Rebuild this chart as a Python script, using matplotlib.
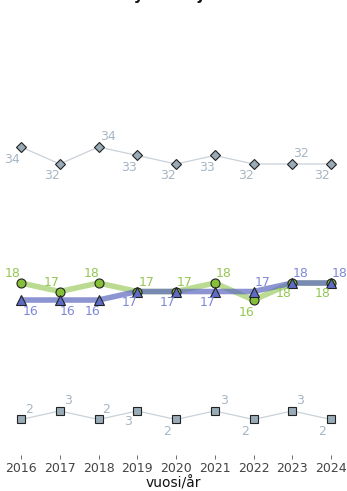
import matplotlib.pyplot as plt

years = [2016, 2017, 2018, 2019, 2020, 2021, 2022, 2023, 2024]
top_vals = [34, 32, 34, 33, 32, 33, 32, 32, 32]
green_vals = [18, 17, 18, 17, 17, 18, 16, 18, 18]
blue_vals = [16, 16, 16, 17, 17, 17, 17, 18, 18]
bottom_vals = [2, 3, 2, 3, 2, 3, 2, 3, 2]

# label offsets in pixels (dx, dy), picked to match the repel layout
top_off = [(-9, -13), (-8, -12), (9, 10), (-8, -12), (-8, -12), (-8, -12), (-8, -12), (9, 10), (-9, -12)]
green_off = [(-8, 10), (-8, 9), (-7, 10), (9, 9), (9, 9), (9, 10), (-7, -12), (-9, -10), (-8, -10)]
blue_off = [(10, -11), (8, -11), (-6, -11), (-8, -11), (-8, -11), (-7, -11), (9, 9), (8, 10), (9, 10)]
bottom_off = [(8, 10), (8, 10), (8, 10), (-9, -11), (-9, -12), (9, 10), (-8, -12), (8, 10), (-9, -12)]

W, H = 347, 491
fig = plt.figure(figsize=(W / 100, H / 100), dpi=100)

xlim = (2016 - 21 / 38.75, 2024 + 16 / 38.75)


def make_ax(top_px, bot_px, lo):
    ax = fig.add_axes([0, (H - bot_px) / H, 1, (bot_px - top_px) / H])
    ax.set_xlim(xlim)
    ax.set_ylim(lo, lo + (bot_px - top_px) / 8.5)
    ax.patch.set_visible(False)
    for s in ax.spines.values():
        s.set_visible(False)
    ax.set_yticks([])
    return ax


def labels(ax, vals, offs, color):
    for x, v, (dx, dy) in zip(years, vals, offs):
        ax.annotate(str(v), (x, v), xytext=(dx, dy), textcoords='offset pixels',
                    ha='center', va='center', fontsize=9, color=color)


ax1 = make_ax(100, 220, 25.41)
ax1.plot(years, top_vals, color='#c9d1d9', lw=0.9, zorder=1)
ax1.plot(years, top_vals, 'D', ms=5.5, mfc='#9aabb8', mec='#222222', mew=0.8, zorder=3)
labels(ax1, top_vals, top_off, '#a7b6c4')
ax1.set_xticks([])

ax2 = make_ax(230, 350, 10.12)
ax2.plot(years, green_vals, color='#9dcc62', lw=4, alpha=0.7, solid_capstyle='butt', zorder=1)
ax2.plot(years, blue_vals, color='#5c68c0', lw=4, alpha=0.7, solid_capstyle='butt', zorder=1)
ax2.plot(years, green_vals, 'o', ms=6.5, mfc='#86bf3a', mec='#222222', mew=0.8, zorder=3)
ax2.plot(years, blue_vals, '^', ms=7.5, mfc='#5e6cc6', mec='#222222', mew=0.8, zorder=3)
labels(ax2, green_vals, green_off, '#95c653')
labels(ax2, blue_vals, blue_off, '#7f88d8')
ax2.set_xticks([])

ax3 = make_ax(335, 455, -2.18)
ax3.plot(years, bottom_vals, color='#c9d1d9', lw=0.9, zorder=1)
ax3.plot(years, bottom_vals, 's', ms=6, mfc='#9aabb8', mec='#222222', mew=0.8, zorder=3)
labels(ax3, bottom_vals, bottom_off, '#a7b6c4')
ax3.set_xticks(years)
ax3.set_xticklabels([str(y) for y in years])
ax3.tick_params(axis='x', length=3, width=0.6, color='#555555', labelcolor='#444444',
                labelsize=9, pad=2)
ax3.set_xlabel('vuosi/år', fontsize=10, color='#111111', labelpad=1)

# title sits above the canvas in the reference, only descenders show
fig.text(0.5, 1.0, 'Työntekijät', ha='center', va='baseline', fontsize=11,
         fontweight='bold', color='#111111')

fig.savefig('out.png', dpi=100)
